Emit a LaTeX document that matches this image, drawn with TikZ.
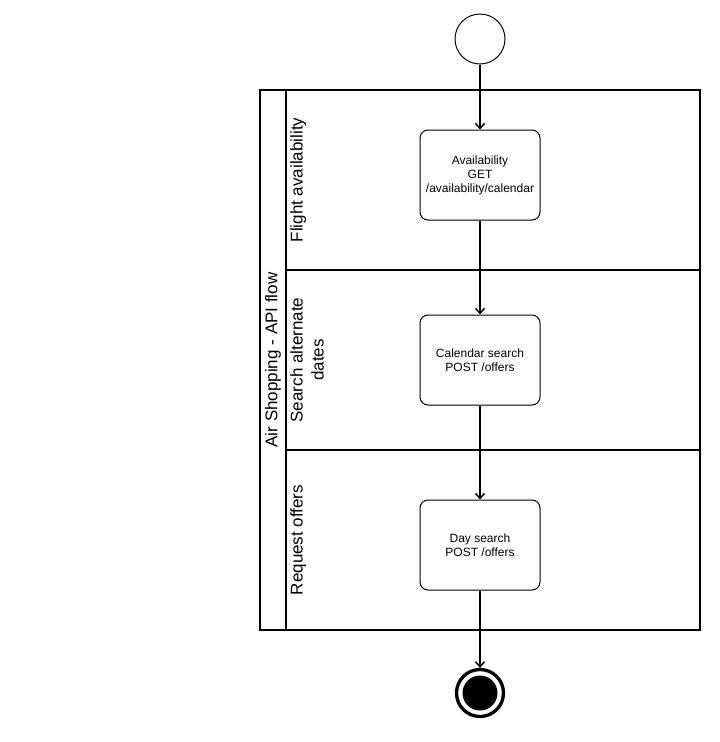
\documentclass[tikz,border=0pt]{standalone}
\usepackage{fontspec}
\setmainfont{Liberation Sans}
\usetikzlibrary{arrows.meta}
\tikzset{
  actbox/.style={draw, line width=1pt, rounded corners=8pt, minimum width=120pt, minimum height=90pt, inner sep=0pt, align=center, font=\fontsize{12}{14}\selectfont},
  lanelabel/.style={rotate=90, align=center, font=\fontsize{17}{21}\selectfont, inner sep=0pt},
  flow/.style={line width=1.5pt, -{Straight Barb[length=5pt,width=9pt,line width=1.5pt]}},
  frame/.style={line width=1.3pt}
}
\begin{document}
\begin{tikzpicture}[x=1pt,y=-1pt]
\useasboundingbox (0,0) rectangle (720,742);
% pool and lanes
\draw[frame] (260,90) rectangle (700,630);
\draw[frame] (286,90) -- (286,630);
\draw[frame] (286,270) -- (700,270);
\draw[frame] (286,450) -- (700,450);
\node[lanelabel] (pool) at (273,360) {Air Shopping - API flow};
\node[lanelabel, anchor=north] (l1) at (290,180) {Flight availability};
\node[lanelabel, anchor=north] (l2) at (290,360) {Search alternate\\dates};
\node[lanelabel, anchor=north] (l3) at (290,540) {Request offers};
% start
\node[draw, circle, line width=1pt, minimum size=50pt, inner sep=0pt] (start) at (480,39) {};
% activities
\node[actbox] (a1) at (480,175) {Availability\\GET\\/availability/calendar};
\node[actbox] (a2) at (480,360) {Calendar search\\POST /offers};
\node[actbox] (a3) at (480,545) {Day search\\POST /offers};
% end
\node[draw, circle, line width=3.3pt, minimum size=47pt, inner sep=0pt] (end) at (480,693) {};
\fill (end.center) circle (17.5pt);
% flows
\draw[flow] (start) -- (a1);
\draw[flow] (a1) -- (a2);
\draw[flow] (a2) -- (a3);
\draw[flow] (a3) -- (end);
\end{tikzpicture}
\end{document}
